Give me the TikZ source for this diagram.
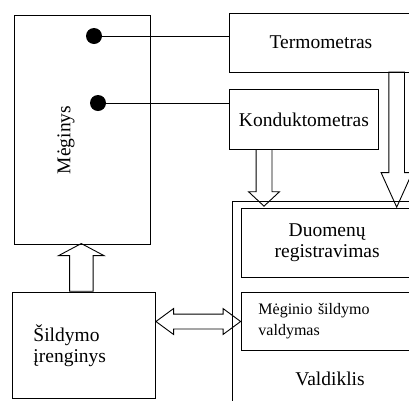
\documentclass[tikz,border=0pt]{standalone}
\usepackage{fontspec}
\setmainfont{Liberation Serif}
\usetikzlibrary{shapes.arrows}

\begin{document}
\begin{tikzpicture}[x=1pt,y=-1pt,line width=0.9pt,
every node/.style={font=\fontsize{19.5}{21}\selectfont},
box/.style={draw, inner sep=0pt, anchor=north west},
dot/.style={circle, fill, inner sep=0pt, minimum size=16pt},
fatarrow/.style={draw, single arrow, inner xsep=0pt, anchor=tail},
fatdouble/.style={draw, double arrow, inner xsep=0pt}]
\useasboundingbox (0,0) rectangle (409,400);
\clip (0,0) rectangle (409,400);
% blocks
\node[box, minimum width=136pt, minimum height=229pt] (meginys) at (14,15) {};
\node[rotate=90] (meginystxt) at (66,140) {Mėginys};
\node[box, minimum width=183pt, minimum height=59pt] (termo) at (229,12.7) {Termometras};
\node[box, minimum width=149pt, minimum height=59.7pt] (kond) at (229,89.3) {Konduktometras};
\node[box, minimum width=185pt, minimum height=210pt] (valdiklis) at (231.5,200.5) {};
\node (valdtxt) at (330,379) {Valdiklis};
\node[box, minimum width=172pt, minimum height=69.5pt, align=center] (duom) at (240.7,207.7) {Duomenų\\registravimas};
\node[box, minimum width=172pt, minimum height=58pt, inner xsep=17.3pt, text width=137.4pt, align=left,
font=\fontsize{16}{21}\selectfont] (sildval) at (240.7,292) {Mėginio šildymo\\valdymas};
\node[box, minimum width=143pt, minimum height=106pt, inner xsep=21pt, text width=101pt, align=left] (sild) at (12,292) {Šildymo\\įrenginys};
% sensors
\node[dot] (dotT) at (94,36) {};
\node[dot] (dotK) at (98,103) {};
\draw (dotT) -- (dotT -| termo.west);
\draw (dotK) -- (dotK -| kond.west);
% block arrows
\node[fatarrow, rotate=-90, inner ysep=7.5pt, single arrow head extend=7.5pt,
single arrow tip angle=94, minimum height=56.7pt] (kondarrow) at (264,149) {};
\node[fatarrow, rotate=-90, inner ysep=7.35pt, single arrow head extend=7.8pt,
single arrow tip angle=48.6, minimum height=135pt] (termoarrow) at (396.7,71.7) {};
\node[fatarrow, rotate=90, inner ysep=11.3pt, single arrow head extend=11pt,
single arrow tip angle=124, minimum height=47.7pt] (sildarrow) at (81.3,291.7) {};
\node[fatdouble, inner ysep=7pt, double arrow head extend=5.5pt,
double arrow tip angle=72.7, minimum height=84.7pt] (valdarrow) at (198.3,321.5) {};
\end{tikzpicture}
\end{document}
